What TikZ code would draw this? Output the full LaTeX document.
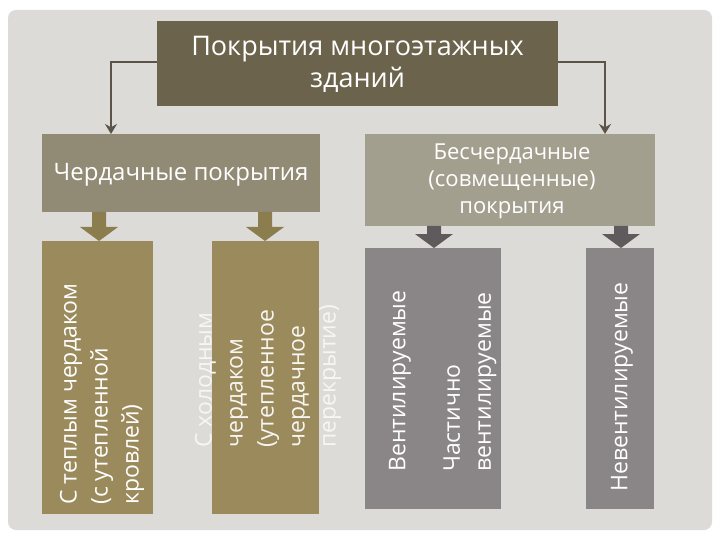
\documentclass[tikz,border=0pt]{standalone}
\usepackage{fontspec}
\usetikzlibrary{arrows.meta}
\setmainfont{Open Sans}
\begin{document}
\begin{tikzpicture}[x=1pt,y=-1pt,
  box/.style={draw=none,inner sep=0pt,text=white,align=center,font=\fontsize{22}{27}\selectfont},
  vtxt/.style={rotate=90,anchor=west,align=left,text=white,font=\fontsize{23}{31}\selectfont,inner sep=0pt},
  conn/.style={draw=lineC,line width=2.5pt,-{Stealth[length=10pt,width=12pt]}}]
\definecolor{panel}{HTML}{DDDBD8}
\definecolor{titleC}{HTML}{6B634C}
\definecolor{leftC}{HTML}{918B76}
\definecolor{rightC}{HTML}{A39F8F}
\definecolor{oliveC}{HTML}{9B8B5C}
\definecolor{grayC}{HTML}{8A8587}
\definecolor{arrK}{HTML}{8C7D4F}
\definecolor{arrG}{HTML}{5F5A5C}
\definecolor{lineC}{HTML}{5C5448}
\useasboundingbox (0,0) rectangle (720,540);
\fill[white] (0,0) rectangle (720,540);
\fill[panel,rounded corners=8pt] (8,10) rectangle (712,530);
\fill[titleC] (157,21) rectangle (558,106);
\node[box,font=\fontsize{27}{32}\selectfont] (t) at (357.5,64) {Покрытия многоэтажных\\зданий};
\fill[leftC] (42,134) rectangle (320,212);
\node[box,font=\fontsize{24}{28}\selectfont] (l) at (181,175) {Чердачные покрытия};
\fill[rightC] (365,134) rectangle (655,226);
\node[box] (r) at (512,181) {Бесчердачные\\(совмещенные)\\покрытия};
\coordinate (tl) at (157,62);
\coordinate (tr) at (558,62);
\coordinate (lt) at (111,134);
\coordinate (rt) at (605,134);
\draw[conn] (tl) -| (lt);
\draw[conn] (tr) -| (rt);
% columns
\fill[oliveC] (42,241) rectangle (153,514);
\fill[oliveC] (212,241) rectangle (319,514);
\fill[grayC] (365,248) rectangle (501,509);
\fill[grayC] (586,248) rectangle (654,509);
\node[vtxt] (c1) at (102,505) {С теплым чердаком\\(с утепленной\\кровлей)};
\node[vtxt,text=white!92!oliveC] (c2) at (268,448) {С холодным\\чердаком\\(утепленное\\чердачное\\перекрытие)};
\node[vtxt] (c3a) at (400,472) {Вентилируемые};
\node[vtxt] (c3b) at (470,472) {Частично\\вентилируемые};
\node[vtxt] (c4) at (622,492) {Невентилируемые};
% block arrows
\foreach \x/\c/\a/\b in {99/arrK/212/241,265/arrK/212/241,434/arrG/226/248,621/arrG/226/248}{
  \fill[\c] (\x-7,\a) -- (\x+7,\a) -- (\x+7,\b-14) -- (\x+19,\b-14) -- (\x,\b) -- (\x-19,\b-14) -- (\x-7,\b-14) -- cycle;
}
\end{tikzpicture}
\end{document}
